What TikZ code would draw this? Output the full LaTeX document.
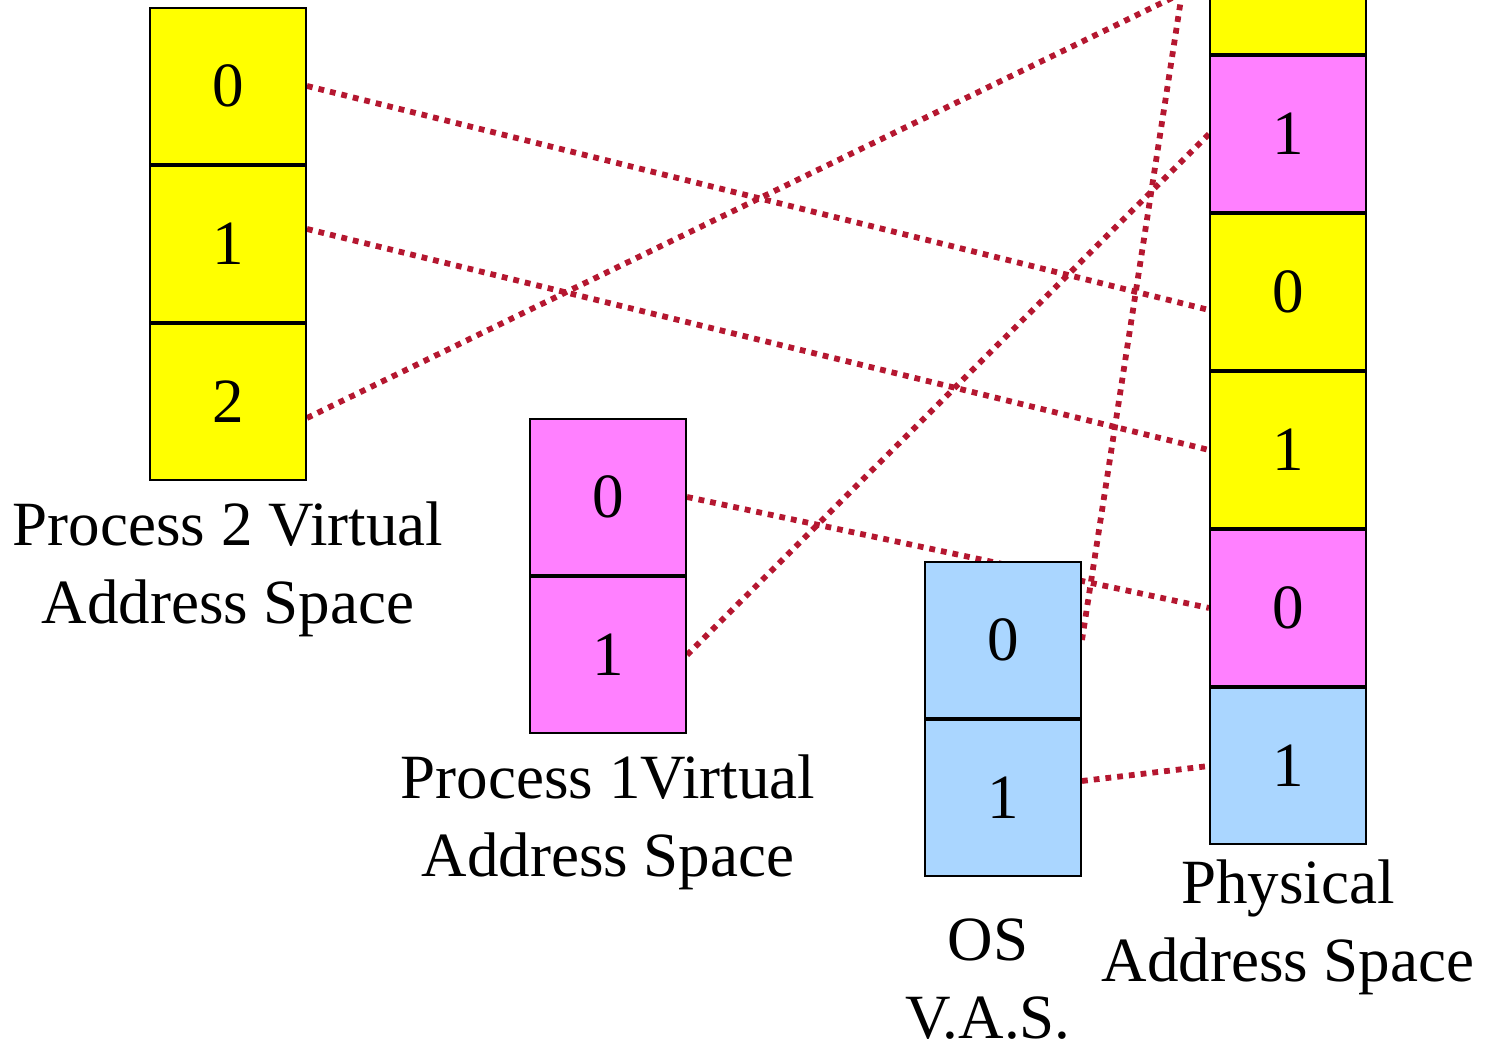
\documentclass[tikz,border=0pt]{standalone}
\usepackage{fontspec}
\setmainfont{Liberation Serif}
\usetikzlibrary{positioning}
\definecolor{pageyellow}{RGB}{255,255,0}
\definecolor{pagepink}{RGB}{255,128,255}
\definecolor{pageblue}{RGB}{170,214,255}
\definecolor{mapred}{RGB}{181,23,48}
\pgfdeclarelayer{background}
\pgfsetlayers{background,main}
\tikzstyle{page} = [rectangle, draw=black, line width=1pt, minimum width=78pt, minimum height=78pt, inner sep=0pt, font=\fontsize{31.5}{39}\selectfont]
\tikzstyle{spacename} = [align=center, inner sep=0pt, font=\fontsize{31.5}{39}\selectfont]
\tikzstyle{mapping} = [draw=mapred, line width=2.9pt, dash pattern=on 2.9pt off 3pt]

\begin{document}
\begin{tikzpicture}[x=0.5pt, y=0.5pt, node distance = 0pt]
	\useasboundingbox (0,0) rectangle (1485,1043);
	% process 2
	\node (Proc2Page0) [page, fill=pageyellow] at (228,957) {0};
	\node (Proc2Page1) [page, fill=pageyellow, below = of Proc2Page0] {1};
	\node (Proc2Page2) [page, fill=pageyellow, below = of Proc2Page1] {2};
	\node (Proc2Name) [spacename, below = 10pt of Proc2Page2] {Process 2 Virtual\\Address Space};
	% process 1
	\node (Proc1Page0) [page, fill=pagepink] at (608,546) {0};
	\node (Proc1Page1) [page, fill=pagepink, below = of Proc1Page0] {1};
	\node (Proc1Name) [spacename, below = 10pt of Proc1Page1] {Process 1Virtual\\Address Space};
	% os
	\node (OSPage0) [page, fill=pageblue] at (1003,403) {0};
	\node (OSPage1) [page, fill=pageblue, below = of OSPage0] {1};
	\node (OSName) [spacename, below = 20.5pt of OSPage1, xshift=-7.5pt] {OS\\V.A.S.};
	% physical memory
	\node (PhysOS1) [page, fill=pageblue] at (1288,277) {1};
	\node (PhysP1Page0) [page, fill=pagepink, above = of PhysOS1] {0};
	\node (PhysP2Page1) [page, fill=pageyellow, above = of PhysP1Page0] {1};
	\node (PhysP2Page0) [page, fill=pageyellow, above = of PhysP2Page1] {0};
	\node (PhysP1Page1) [page, fill=pagepink, above = of PhysP2Page0] {1};
	\node (PhysP2Page2) [page, fill=pageyellow, above = of PhysP1Page1] {2};
	\coordinate (PhysOS0) at ([yshift=79pt]PhysP2Page2.west);
	\node (PhysName) [spacename, below = 7pt of PhysOS1] {Physical\\Address Space};
	\begin{pgfonlayer}{background}
	\draw [mapping] (Proc2Page0.east) -- ([yshift=-9pt]PhysP2Page0.west);
	\draw [mapping] ([yshift=7.5pt]Proc2Page1.east) -- (PhysP2Page1.west);
	\draw [mapping] ([yshift=-8pt]Proc2Page2.east) -- ([yshift=-2pt]PhysP2Page2.west);
	\draw [mapping] (Proc1Page0.east) -- (PhysP1Page0.west);
	\draw [mapping] (Proc1Page1.east) -- (PhysP1Page1.west);
	\draw [mapping] (OSPage0.east) -- (PhysOS0);
	\draw [mapping] ([yshift=8.5pt]OSPage1.east) -- (PhysOS1.west);
	\end{pgfonlayer}
\end{tikzpicture}
\end{document}
